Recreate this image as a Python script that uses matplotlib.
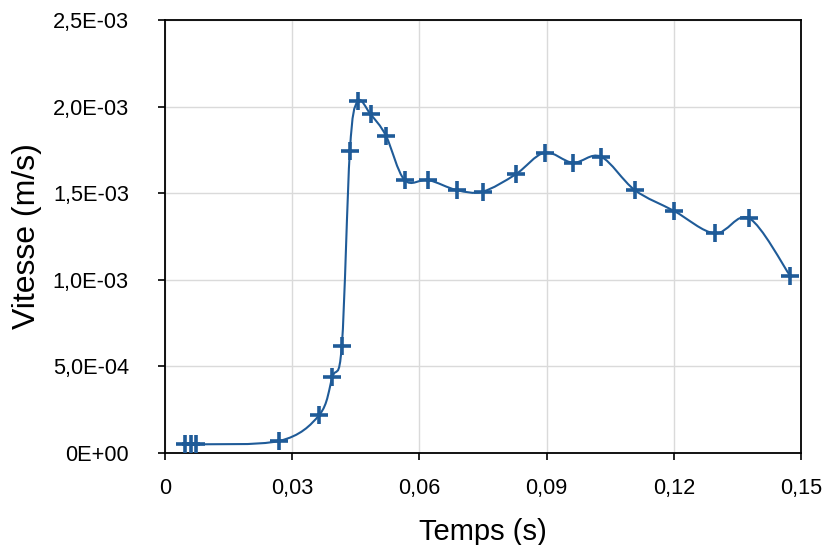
import numpy as np
import matplotlib.pyplot as plt
from matplotlib.path import Path
from matplotlib.patches import PathPatch
from matplotlib.ticker import FuncFormatter

## data

temps = [0.0047, 0.0061, 0.0072, 0.0270, 0.0364, 0.0395, 0.0417, 0.0436,
         0.0454, 0.0485, 0.0521, 0.0565, 0.0621, 0.0688, 0.0749, 0.0827,
         0.0895, 0.0962, 0.1028, 0.1108, 0.1201, 0.1297, 0.1378, 0.1474]
vitesse = [5.0e-5, 5.0e-5, 5.0e-5, 7.0e-5, 2.2e-4, 4.4e-4, 6.2e-4, 1.745e-3,
           2.03e-3, 1.955e-3, 1.832e-3, 1.576e-3, 1.576e-3, 1.518e-3, 1.509e-3, 1.609e-3,
           1.734e-3, 1.676e-3, 1.711e-3, 1.518e-3, 1.397e-3, 1.268e-3, 1.355e-3, 1.024e-3]

xticks = [0, 0.03, 0.06, 0.09, 0.12, 0.15]
yticks = [0, 5e-4, 1e-3, 1.5e-3, 2e-3, 2.5e-3]

blue = '#1f5b98'

plt.rcParams['font.family'] = ['Liberation Sans', 'DejaVu Sans']

fig = plt.figure(figsize=(8.23, 5.45), dpi=100)
ax = fig.add_axes([0.2005, 0.1688, 0.7728, 0.7945])

# smoothed line like the spreadsheet one (bezier through the points)
P = np.column_stack([temps, vitesse])
n = len(P)
verts = [P[0]]
codes = [Path.MOVETO]
for i in range(n - 1):
    p0 = P[max(i - 1, 0)]
    p1 = P[i]
    p2 = P[i + 1]
    p3 = P[min(i + 2, n - 1)]
    verts += [p1 + (p2 - p0) / 6, p2 - (p3 - p1) / 6, p2]
    codes += [Path.CURVE4] * 3
ax.add_patch(PathPatch(Path(verts, codes), fill=False, edgecolor=blue, lw=1.5, zorder=3))

ax.plot(temps, vitesse, linestyle='none', marker='+', markersize=13,
        markeredgewidth=2.6, color=blue, zorder=4)

ax.set_xlim(0, 0.15)
ax.set_ylim(0, 2.5e-3)
ax.set_xticks(xticks)
ax.set_yticks(yticks)

def fx(v, pos):
    return '0' if v == 0 else ('%.2f' % v).replace('.', ',')

def fy(v, pos):
    if v == 0:
        return '0E+00'
    return ('%.1E' % v).replace('.', ',')

ax.xaxis.set_major_formatter(FuncFormatter(fx))
ax.yaxis.set_major_formatter(FuncFormatter(fy))

ax.grid(True, color='#dadada', lw=1)
ax.set_axisbelow(True)
for s in ax.spines.values():
    s.set_linewidth(1.3)
ax.tick_params(direction='out', length=5, width=1.2, labelsize=15.7)
ax.tick_params(axis='x', pad=13)
ax.tick_params(axis='y', pad=21)

ax.set_xlabel('Temps (s)', fontsize=21, labelpad=14)
ax.set_ylabel('Vitesse (m/s)', fontsize=23, labelpad=8)

plt.savefig('out.png', dpi=100)
